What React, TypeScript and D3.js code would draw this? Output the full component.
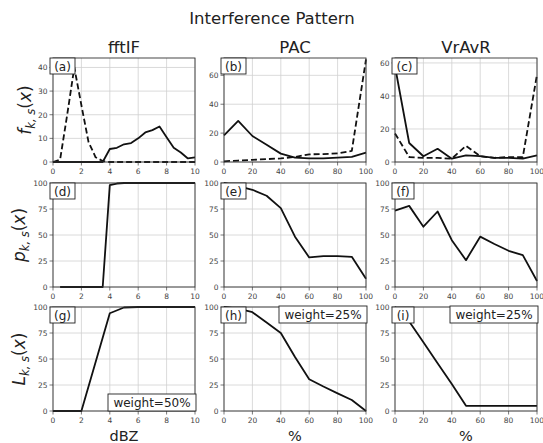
import * as d3 from "d3";

// ---- data ----
const xDbz = [0, 0.5, 1, 1.5, 2, 2.5, 3, 3.5, 4, 4.5, 5, 5.5, 6, 6.5, 7, 7.5, 8, 8.5, 9, 9.5, 10];
const xPct = [0, 10, 20, 30, 40, 50, 60, 70, 80, 90, 100];

const fftifSolid = [0, 0, 0, 0, 0, 0, 0, 0, 5.5, 6, 7.5, 8, 10, 12.5, 13.5, 15, 10.5, 6, 4, 1.5, 2];
const fftifDashed = [0, 1, 20, 40, 24, 8.5, 2, 0.4, 0, 0, 0, 0, 0, 0, 0, 0, 0, 0, 0, 0, 0];
const pacSolid = [18.5, 28.5, 18, 12, 5.8, 3, 2.5, 2.5, 3, 3.5, 6.5];
const pacDashed = [0.5, 1, 1.5, 2, 2.5, 3.5, 5.3, 5.5, 6, 7.7, 71];
const vravrSolid = [58, 11.5, 3.5, 8, 2, 4, 3.5, 2.5, 2.5, 2, 4];
const vravrDashed = [17.3, 3, 2.5, 2.5, 2, 9.8, 3.5, 2.5, 3, 3, 53];

const xDbzP = [0.5, 1, 1.5, 2, 2.5, 3, 3.5, 4, 4.5, 5, 5.5, 6, 6.5, 7, 7.5, 8, 8.5, 9, 9.5, 10];
const fftifP = [0, 0, 0, 0, 0, 0, 0, 98, 99.5, 100, 100, 100, 100, 100, 100, 100, 100, 100, 100, 100];
const pacP = [100, 97, 93.5, 87.7, 75.8, 48.4, 28.4, 29.7, 29.7, 29, 8];
const vravrP = [73.5, 78, 58, 72.6, 45, 25.8, 48.4, 41.3, 34.8, 30.6, 5.8];

const xDbzL = [0, 2, 4, 5, 6, 7, 8, 9, 10];
const fftifL = [0, 0, 94, 99.5, 100, 100, 100, 100, 100];
const pacL = [100, 98.5, 95, 85, 75, 52, 30.5, 23.5, 17, 10.6, 0];
const vravrL = [100, 86, 66, 46, 26, 5, 5, 5, 5, 5, 5];

const colTitles = ["fftIF", "PAC", "VrAvR"];
const rowLabels = ["f", "p", "L"];
const xLabels = ["dBZ", "%", "%"];
const panelTags = ["(a)", "(b)", "(c)", "(d)", "(e)", "(f)", "(g)", "(h)", "(i)"];
const weights = ["weight=50%", "weight=25%", "weight=25%"];

type Series = { x: number[]; y: number[]; dashed?: boolean };
type Panel = { xMax: number; yMax: number; xTicks: number[]; yTicks: number[]; series: Series[] };

const dbzTicks = [0, 2, 4, 6, 8, 10];
const pctTicks = [0, 20, 40, 60, 80, 100];
const probTicks = [0, 25, 50, 75, 100];

const panels: Panel[] = [
  { xMax: 10, yMax: 44, xTicks: dbzTicks, yTicks: [0, 10, 20, 30, 40],
    series: [{ x: xDbz, y: fftifDashed, dashed: true }, { x: xDbz, y: fftifSolid }] },
  { xMax: 100, yMax: 72, xTicks: pctTicks, yTicks: [0, 20, 40, 60],
    series: [{ x: xPct, y: pacDashed, dashed: true }, { x: xPct, y: pacSolid }] },
  { xMax: 100, yMax: 63, xTicks: pctTicks, yTicks: [0, 20, 40, 60],
    series: [{ x: xPct, y: vravrDashed, dashed: true }, { x: xPct, y: vravrSolid }] },
  { xMax: 10, yMax: 100, xTicks: dbzTicks, yTicks: probTicks, series: [{ x: xDbzP, y: fftifP }] },
  { xMax: 100, yMax: 100, xTicks: pctTicks, yTicks: probTicks, series: [{ x: xPct, y: pacP }] },
  { xMax: 100, yMax: 100, xTicks: pctTicks, yTicks: probTicks, series: [{ x: xPct, y: vravrP }] },
  { xMax: 10, yMax: 100, xTicks: dbzTicks, yTicks: probTicks, series: [{ x: xDbzL, y: fftifL }] },
  { xMax: 100, yMax: 100, xTicks: pctTicks, yTicks: probTicks, series: [{ x: xPct, y: pacL }] },
  { xMax: 100, yMax: 100, xTicks: pctTicks, yTicks: probTicks, series: [{ x: xPct, y: vravrL }] },
];

const colLeft = [53, 224, 395];
const rowTop = [58, 183, 307];
const labelX = [31, 25, 25];
const pw = 142;
const ph = 104;
const font = "DejaVu Sans, sans-serif";

function PanelView({ p, i }: { p: Panel; i: number }) {
  const col = i % 3;
  const row = Math.floor(i / 3);
  const x = d3.scaleLinear().domain([0, p.xMax]).range([0, pw]);
  const y = d3.scaleLinear().domain([0, p.yMax]).range([ph, 0]);
  const line = d3.line<number>();
  const clipId = `clip${i}`;
  const narrow = i === 5 || i === 8;
  return (
    <g transform={`translate(${colLeft[col]},${rowTop[row]})`}>
      <defs>
        <clipPath id={clipId}>
          <rect x={-1} y={-1} width={pw + 2} height={ph + 2} />
        </clipPath>
      </defs>
      {/* grid */}
      {p.xTicks.map((t) => (
        <line key={"gx" + t} x1={x(t)} x2={x(t)} y1={0} y2={ph} stroke="#d0d0d0" strokeWidth={0.8} />
      ))}
      {p.yTicks.map((t) => (
        <line key={"gy" + t} x1={0} x2={pw} y1={y(t)} y2={y(t)} stroke="#d0d0d0" strokeWidth={0.8} />
      ))}
      {/* ticks */}
      {p.xTicks.map((t) => (
        <g key={"tx" + t}>
          <line x1={x(t)} x2={x(t)} y1={ph} y2={ph + 3.5} stroke="#555" strokeWidth={0.8} />
          <text x={x(t)} y={ph + 12} fontSize={7.5} fill="#444" textAnchor="middle" fontFamily={font}>{t}</text>
        </g>
      ))}
      {p.yTicks.map((t) => (
        <g key={"ty" + t}>
          <line x1={-3.5} x2={0} y1={y(t)} y2={y(t)} stroke="#555" strokeWidth={0.8} />
          <text x={-5.5} y={y(t) + 3} fontSize={7.5} fill="#444" textAnchor="end" fontFamily={font}>{t}</text>
        </g>
      ))}
      {/* lines */}
      <g clipPath={`url(#${clipId})`}>
        {p.series.map((s, k) => (
          <path key={k}
            d={line(s.x.map((v, j) => [x(v), y(s.y[j])]) as any) || ""}
            fill="none" stroke="#111" strokeWidth={1.8}
            strokeDasharray={s.dashed ? "6,3" : undefined} strokeLinejoin="round" />
        ))}
      </g>
      <rect x={0} y={0} width={pw} height={ph} fill="none" stroke="#333" strokeWidth={0.9} />
      {/* tag box */}
      <rect x={-3} y={0} width={narrow ? 22 : 25} height={16} fill="white" stroke="#222" strokeWidth={0.9} />
      <text x={narrow ? 8 : 9.5} y={12.5} fontSize={12} textAnchor="middle" fontFamily={font} fill="#222">{panelTags[i]}</text>
      {row === 2 && (
        <g transform={col === 0 ? `translate(${pw - 87},${ph - 17})` : `translate(${pw - 87},-1)`}>
          <rect x={0} y={0} width={88} height={17} fill="white" stroke="#222" strokeWidth={0.9} />
          <text x={44} y={13} fontSize={12} textAnchor="middle" fontFamily={font} fill="#222">{weights[col]}</text>
        </g>
      )}
    </g>
  );
}

export default function App() {
  return (
    <svg width={543} height={443} style={{ position: "absolute", left: 0, top: 0, background: "white" }}>
      <rect width={543} height={443} fill="white" />
      <text x={272} y={24} fontSize={16.5} textAnchor="middle" fontFamily={font} fill="#222">Interference Pattern</text>
      {colTitles.map((t, c) => (
        <text key={t} x={colLeft[c] + pw / 2} y={53} fontSize={16.5} textAnchor="middle" fontFamily={font} fill="#222">{t}</text>
      ))}
      {rowLabels.map((r, k) => (
        <text key={r} transform={`translate(${labelX[k]},${rowTop[k] + ph / 2}) rotate(-90)`} fontSize={17}
          textAnchor="middle" fontFamily={font} fill="#222">
          <tspan fontStyle="italic">{r}</tspan>
          <tspan fontStyle="italic" fontSize={11.5} dy={3.5}>{"k, s"}</tspan>
          <tspan dy={-3.5}>(</tspan>
          <tspan fontStyle="italic">x</tspan>
          <tspan>)</tspan>
        </text>
      ))}
      {xLabels.map((l, c) => (
        <text key={c} x={colLeft[c] + pw / 2} y={441} fontSize={14.5} textAnchor="middle" fontFamily={font} fill="#222">{l}</text>
      ))}
      {panels.map((p, i) => (
        <PanelView key={i} p={p} i={i} />
      ))}
    </svg>
  );
}
